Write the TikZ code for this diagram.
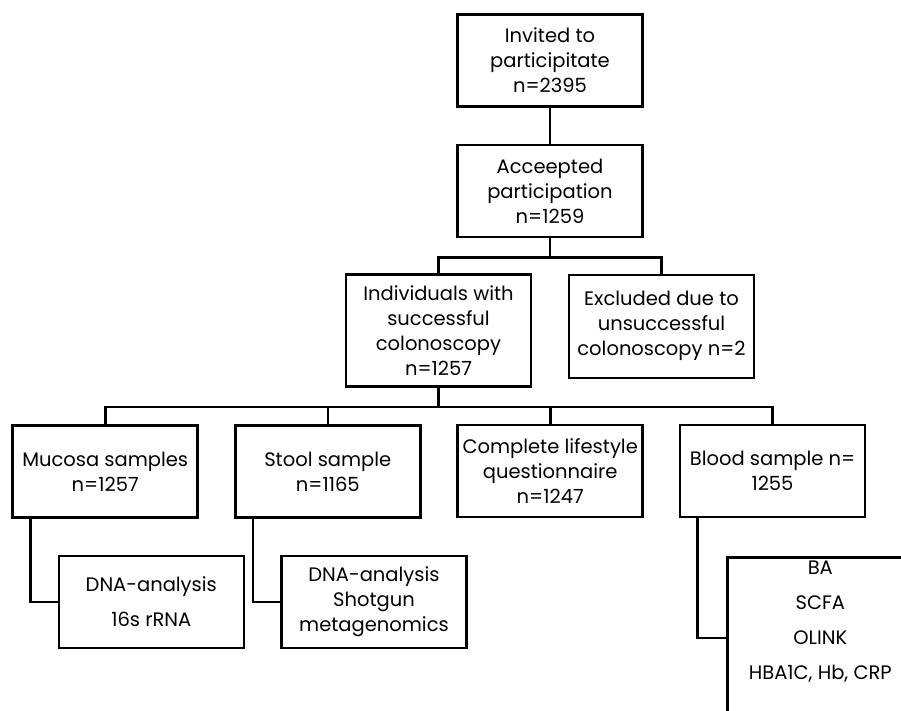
\documentclass[tikz,border=0pt]{standalone}
\usepackage{fontspec}
\setmainfont{Poppins}
\usepackage{tikz}
\usetikzlibrary{positioning}
\definecolor{my_black}{HTML}{000000}

\begin{document}
\begin{tikzpicture}[
    x=1pt, y=-1pt,
    box/.style={draw=my_black, line width=2.6pt, minimum width=185pt,
        minimum height=92pt, inner sep=0pt, align=center,
        font=\fontsize{19.5}{25}\selectfont},
    link/.style={my_black, line width=2.6pt}
]

% ---------------------------------------------------------------
%  Flussdiagramm der Studienteilnahme (Pixelkoordinaten, y nach unten)
% ---------------------------------------------------------------
\path[use as bounding box, clip] (0, 0) rectangle (901, 710);

% Obere Kette
\node[box] (invited) at (550, 60.3) {Invited to\\participitate\\n=2395};
\node[box] (accepted) at (550, 191) {Acceepted\\participation\\n=1259};
\node[box, minimum height=112pt] (colono) at (438.5, 330.5)
    {Individuals with\\successful\\colonoscopy\\n=1257};
\node[box, minimum height=103pt] (excluded) at (661.5, 326.3)
    {Excluded due to\\unsuccessful\\colonoscopy n=2};

% Proben
\node[box] (mucosa) at (105.2, 471.5) {Mucosa samples\\n=1257};
\node[box] (stool) at (327.8, 471.5) {Stool sample\\n=1165};
\node[box] (lifestyle) at (550.2, 471) {Complete lifestyle\\questionnaire\\n=1247};
\node[box] (blood) at (772.5, 471) {Blood sample n=\\1255};

% Analysen
\node[box] (dnamucosa) at (151.3, 602) {DNA-analysis\\[10pt]16s rRNA};
\node[box] (dnastool) at (374, 602) {DNA-analysis\\Shotgun\\metagenomics};
\node[box, minimum width=186pt, minimum height=161pt, anchor=north west]
    (bloodlab) at (726, 556)
    {BA\\[10pt]SCFA\\[10pt]OLINK\\[10pt]HBA1C, Hb, CRP\\[10pt]\mbox{}};

% Verbindungen
\draw[link] (invited) -- (accepted);
\draw[link] (accepted.south) -- ++(0, 19) coordinate (split1);
\draw[link] (colono.north) |- (split1) -| (excluded.north);
\draw[link] (colono.south) -- ++(0, 19) coordinate (split2);
\draw[link] (mucosa.north) |- (split2) -| (blood.north);
\draw[link] (stool.north) |- (split2);
\draw[link] (lifestyle.north) |- (split2);
\draw[link] ([xshift=19pt]mucosa.south west) |- (dnamucosa.west);
\draw[link] ([xshift=19pt]stool.south west) |- (dnastool.west);
\draw[link] ([xshift=19pt]blood.south west) |- (bloodlab.west);

\end{tikzpicture}
\end{document}
